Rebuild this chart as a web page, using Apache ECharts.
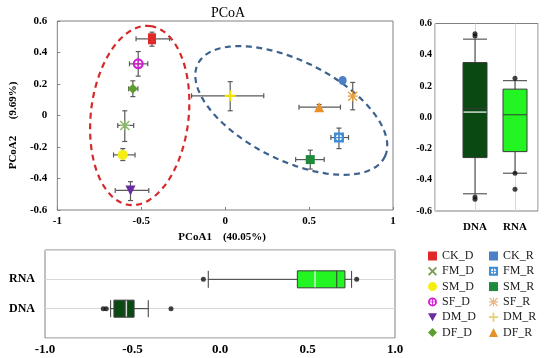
<!DOCTYPE html>
<html><head><meta charset="utf-8">
<script src="https://cdn.jsdelivr.net/npm/echarts@6/dist/echarts.min.js"></script>
<style>html,body{margin:0;padding:0;background:#fff}#c{width:550px;height:358px}</style>
</head><body><div id="c"></div>
<script>
// ---------- data ----------
const groupNames = ['CK_D','FM_D','SM_D','SF_D','DM_D','DF_D','CK_R','FM_R','SM_R','SF_R','DM_R','DF_R'];
const pcoa1     = [-0.436,-0.598,-0.61,-0.518,-0.564,-0.55, 0.70, 0.678, 0.507, 0.76, 0.03, 0.56];
const pcoa2     = [ 0.487,-0.063,-0.25, 0.328,-0.476, 0.17, 0.222,-0.14,-0.28, 0.123, 0.125, 0.053];
const pcoa1Low  = [-0.531,-0.64,-0.665,-0.57,-0.655,-0.575, 0.70, 0.63, 0.42, 0.76,-0.20, 0.44];
const pcoa1High = [-0.331,-0.545,-0.537,-0.461,-0.455,-0.52, 0.70, 0.735, 0.59, 0.76, 0.23, 0.687];
const pcoa2Low  = [ 0.44,-0.165,-0.286, 0.25,-0.54, 0.12, 0.222,-0.21,-0.34, 0.036, 0.03, 0.035];
const pcoa2High = [ 0.529, 0.03,-0.21, 0.406,-0.42, 0.22, 0.222,-0.08,-0.22, 0.21, 0.215, 0.07];

// confidence ellipses (data units): centre, half major axis vector, half minor axis vector
const ellipseCx = [-0.509, 0.394];
const ellipseCy = [0.0, 0.032];
const ellipseMajX = [0.063, 0.559];
const ellipseMajY = [0.568, -0.290];
const ellipseMinX = [0.289, -0.121];
const ellipseMinY = [-0.039, -0.288];

const boxCategories = ['DNA','RNA'];
const boxPositions = [1, 2];
// [min, Q1, median, Q3, max]
const pcoa2Box = [[-0.49,-0.258,0.055,0.35,0.50],[-0.358,-0.22,0.016,0.18,0.234]];
const pcoa2Mean = [0.033];
const pcoa2OutDNA = [0.534,0.52,-0.51,-0.525];
const pcoa2OutRNA = [0.25,-0.358,-0.46];
const pcoa1Box = [[-0.625,-0.606,-0.548,-0.491,-0.41],[-0.067,0.442,0.667,0.714,0.752]];
const pcoa1Mean = [-0.535, 0.543];
const pcoa1OutDNA = [-0.667,-0.65,-0.28];
const pcoa1OutRNA = [-0.095,0.781];

const mainXTicks = [-1,-0.5,0,0.5,1];
const mainYTicks = [-0.6,-0.4,-0.2,0,0.2,0.4,0.6];

// ---------- styles ----------
const P_PLUS = 'path://M4,0H6V4H10V6H6V10H4V6H0V4H4Z';
const P_X = 'path://M0,1.4L1.4,0L5,3.6L8.6,0L10,1.4L6.4,5L10,8.6L8.6,10L5,6.4L1.4,10L0,8.6L3.6,5Z';
const P_AST = 'path://M4.4,0H5.6V4.4H10V5.6H5.6V10H4.4V5.6H0V4.4H4.4Z M0,1L1,0L5,4L9,0L10,1L6,5L10,9L9,10L5,6L1,10L0,9L4,5Z';
const P_RING = 'path://M10,0A10,10,0,1,1,10,20A10,10,0,1,1,10,0Z M10,4A6,6,0,1,0,10,16A6,6,0,1,0,10,4Z M9,4H11V16H9Z M4,9H16V11H4Z';
const P_SQRING = 'path://M0,0H20V20H0Z M10,4A6,6,0,1,0,10,16A6,6,0,1,0,10,4Z M9,4H11V16H9Z M4,9H16V11H4Z';
const P_TRIDOWN = 'path://M0,0H10L5,9Z';
const styles = {
  CK_D:{color:'#e02a2a', symbol:'rect', size:[8,11], icon:'rect'},
  FM_D:{color:'#8cb86a', symbol:P_AST, size:10, icon:P_X, iconColor:'#7a9a50'},
  SM_D:{color:'#f5ee10', symbol:'circle', size:10, icon:'circle'},
  SF_D:{color:'#d020d0', symbol:P_RING, size:11, icon:P_RING},
  DM_D:{color:'#6a2aa0', symbol:P_TRIDOWN, size:10, icon:P_TRIDOWN},
  DF_D:{color:'#5e9e30', symbol:'diamond', size:10, icon:'diamond'},
  CK_R:{color:'#4a80c8', symbol:'circle', size:[8,9], icon:'rect'},
  FM_R:{color:'#3a8ed8', symbol:P_SQRING, size:10, icon:P_SQRING},
  SM_R:{color:'#1e8a3a', symbol:'rect', size:9, icon:'rect'},
  SF_R:{color:'#e8a040', symbol:P_AST, size:10, icon:P_AST, iconColor:'#e6b88a'},
  DM_R:{color:'#f0e000', symbol:P_PLUS, size:11, icon:P_PLUS, iconColor:'#e8d070'},
  DF_R:{color:'#e8902a', symbol:'triangle', size:10, icon:'triangle'}
};
const SERIF = 'Liberation Serif';

// ---------- series ----------
const series = [];
series.push({
  type:'custom', xAxisIndex:0, yAxisIndex:0, silent:true, z:1,
  data: ellipseCx.map((c,i)=>[c, ellipseCy[i], ellipseMajX[i], ellipseMajY[i], ellipseMinX[i], ellipseMinY[i]]),
  renderItem(params, api){
    const cx=api.value(0), cy=api.value(1), mx=api.value(2), my=api.value(3), nx=api.value(4), ny=api.value(5);
    const pts=[];
    for(let k=0;k<=96;k++){
      const t=k/96*Math.PI*2;
      pts.push(api.coord([cx+mx*Math.cos(t)+nx*Math.sin(t), cy+my*Math.cos(t)+ny*Math.sin(t)]));
    }
    const col = params.dataIndex===0 ? '#d42a2a' : '#3d628f';
    return {type:'polyline', shape:{points:pts}, style:{stroke:col, fill:null, lineWidth:2.2, lineDash:[6,4.5]}};
  }
});
series.push({
  type:'custom', xAxisIndex:0, yAxisIndex:0, silent:true, z:2,
  data: groupNames.map((n,i)=>[pcoa1[i], pcoa2[i], pcoa1Low[i], pcoa1High[i], pcoa2Low[i], pcoa2High[i]]),
  renderItem(params, api){
    const x=api.value(0), y=api.value(1), xl=api.value(2), xh=api.value(3), yl=api.value(4), yh=api.value(5);
    const st={stroke:'#5a5a5a', lineWidth:1.2};
    const ch=[]; const c=2.5;
    const L=(a,b)=>ch.push({type:'line', shape:{x1:a[0],y1:a[1],x2:b[0],y2:b[1]}, style:st});
    if(xh>xl){
      const a=api.coord([xl,y]), b=api.coord([xh,y]);
      L(a,b); L([a[0],a[1]-c],[a[0],a[1]+c]); L([b[0],b[1]-c],[b[0],b[1]+c]);
    }
    if(yh>yl){
      const a=api.coord([x,yl]), b=api.coord([x,yh]);
      L(a,b); L([a[0]-c,a[1]],[a[0]+c,a[1]]); L([b[0]-c,b[1]],[b[0]+c,b[1]]);
    }
    return {type:'group', children:ch};
  }
});
groupNames.forEach((n,i)=>{
  const s=styles[n];
  series.push({type:'scatter', name:n, xAxisIndex:0, yAxisIndex:0, z:3,
    symbol:s.symbol, symbolSize:s.size, itemStyle:{color:s.color, opacity:1},
    data:[[pcoa1[i], pcoa2[i]]]});
});

const boxBorder = '#3a3a3a';
const boxFill = ['#0a4a12','#22f522'];
// right: PCoA2 box plot (vertical boxes)
series.push({type:'boxplot', xAxisIndex:1, yAxisIndex:1, layout:'horizontal', boxWidth:[24,24],
  data: pcoa2Box.map((b,i)=>({value:[boxPositions[i]].concat(b), itemStyle:{color:boxFill[i], borderColor:boxBorder, borderWidth:1}}))});
series.push({type:'scatter', xAxisIndex:1, yAxisIndex:1, symbol:'rect', symbolSize:[23,1.5], itemStyle:{color:'#ffffff'}, z:5,
  data: pcoa2Mean.map((m,i)=>[boxPositions[i], m])});
series.push({type:'scatter', xAxisIndex:1, yAxisIndex:1, symbol:'circle', symbolSize:5, itemStyle:{color:'#111'}, z:5,
  data: pcoa2OutDNA.map(v=>[boxPositions[0], v]).concat(pcoa2OutRNA.map(v=>[boxPositions[1], v]))});
// bottom: PCoA1 box plot (horizontal boxes)
series.push({type:'boxplot', xAxisIndex:2, yAxisIndex:2, layout:'vertical', boxWidth:[17,17],
  data: pcoa1Box.map((b,i)=>({value:[boxPositions[i]].concat(b), itemStyle:{color:boxFill[i], borderColor:boxBorder, borderWidth:1}}))});
series.push({type:'scatter', xAxisIndex:2, yAxisIndex:2, symbol:'rect', symbolSize:[1.5,16], itemStyle:{color:'#ffffff'}, z:5,
  data: pcoa1Mean.map((m,i)=>[m, boxPositions[i]])});
series.push({type:'scatter', xAxisIndex:2, yAxisIndex:2, symbol:'circle', symbolSize:5, itemStyle:{color:'#111'}, z:5,
  data: pcoa1OutDNA.map(v=>[v, boxPositions[0]]).concat(pcoa1OutRNA.map(v=>[v, boxPositions[1]]))});

const catLabel = v => { const i = boxPositions.indexOf(v); return i>=0 ? boxCategories[i] : ''; };
const frameColor = '#808080';
const tickLbl = (size)=>({fontFamily:SERIF, fontWeight:'bold', fontSize:size, color:'#000'});
const noLine = {show:false, onZero:false};

const legendBase = {orient:'vertical', itemWidth:9, itemHeight:9, itemGap:3.3, selectedMode:false,
  textStyle:{fontFamily:SERIF, fontSize:12, color:'#222', lineHeight:12}, padding:0};
const legendData = names => names.map(n=>({name:n, icon:styles[n].icon, itemStyle: styles[n].iconColor ? {color:styles[n].iconColor} : undefined}));

const option = {
  animation:false,
  backgroundColor:'#ffffff',
  title:{text:'PCoA', left:206, top:1, textStyle:{fontFamily:SERIF, fontWeight:'normal', fontSize:14, color:'#000'}},
  legend:[
    Object.assign({}, legendBase, {left:428, top:250, data:legendData(groupNames.slice(0,6))}),
    Object.assign({}, legendBase, {left:489, top:250, data:legendData(groupNames.slice(6))})
  ],
  grid:[
    {left:43, top:21, width:350, height:189, show:true, borderColor:frameColor, borderWidth:1},
    {left:435, top:23.5, width:103, height:187.5, show:true, borderColor:frameColor, borderWidth:1},
    {left:45, top:250, width:350, height:88, show:true, borderColor:frameColor, borderWidth:1}
  ],
  xAxis:[
    {gridIndex:0, type:'value', min:mainXTicks[0], max:mainXTicks[mainXTicks.length-1], interval:0.5,
     axisLine:noLine, splitLine:{show:false}, axisTick:{show:true, inside:true, length:3, lineStyle:{color:frameColor}},
     axisLabel:{...tickLbl(11), margin:6},
     name:'PCoA1    (40.05%)', nameLocation:'middle', nameGap:20,
     nameTextStyle:{fontFamily:SERIF, fontWeight:'bold', fontSize:11, color:'#000', padding:[0,6,0,0]}},
    {gridIndex:1, type:'value', min:0, max:2.575, interval:1,
     axisLine:noLine, axisTick:{show:false},
     splitLine:{show:true, lineStyle:{color:'#d8d8d8', width:1}},
     axisLabel:{...tickLbl(11), margin:11, formatter:catLabel}},
    {gridIndex:2, type:'value', min:-1, max:1, interval:0.5,
     axisLine:noLine, splitLine:{show:false}, axisTick:{show:false},
     axisLabel:{...tickLbl(13), margin:5, formatter:v=>v.toFixed(1)}}
  ],
  yAxis:[
    {gridIndex:0, type:'value', min:mainYTicks[0], max:mainYTicks[mainYTicks.length-1], interval:0.2,
     axisLine:noLine, splitLine:{show:false}, axisTick:{show:true, inside:true, length:3, lineStyle:{color:frameColor}},
     axisLabel:{...tickLbl(11), margin:10, formatter:v=>String(Math.round(v*10)/10)},
     name:'PCoA2      (9.69%)', nameLocation:'middle', nameGap:30,
     nameTextStyle:{fontFamily:SERIF, fontWeight:'bold', fontSize:11, color:'#000', padding:[0,20,0,0]}},
    {gridIndex:1, type:'value', min:-0.6, max:0.6, interval:0.2,
     axisLine:noLine, splitLine:{show:false}, axisTick:{show:false},
     axisLabel:{...tickLbl(10), margin:3, formatter:v=>v.toFixed(1)}},
    {gridIndex:2, type:'value', min:0, max:3, interval:1,
     axisLine:noLine, axisTick:{show:false},
     splitLine:{show:true, lineStyle:{color:'#d8d8d8', width:1}},
     axisLabel:{...tickLbl(12), margin:10, formatter:catLabel}}
  ],
  series
};
const chart = echarts.init(document.getElementById('c'), null, {renderer:'canvas'});
chart.setOption(option);
</script></body></html>
